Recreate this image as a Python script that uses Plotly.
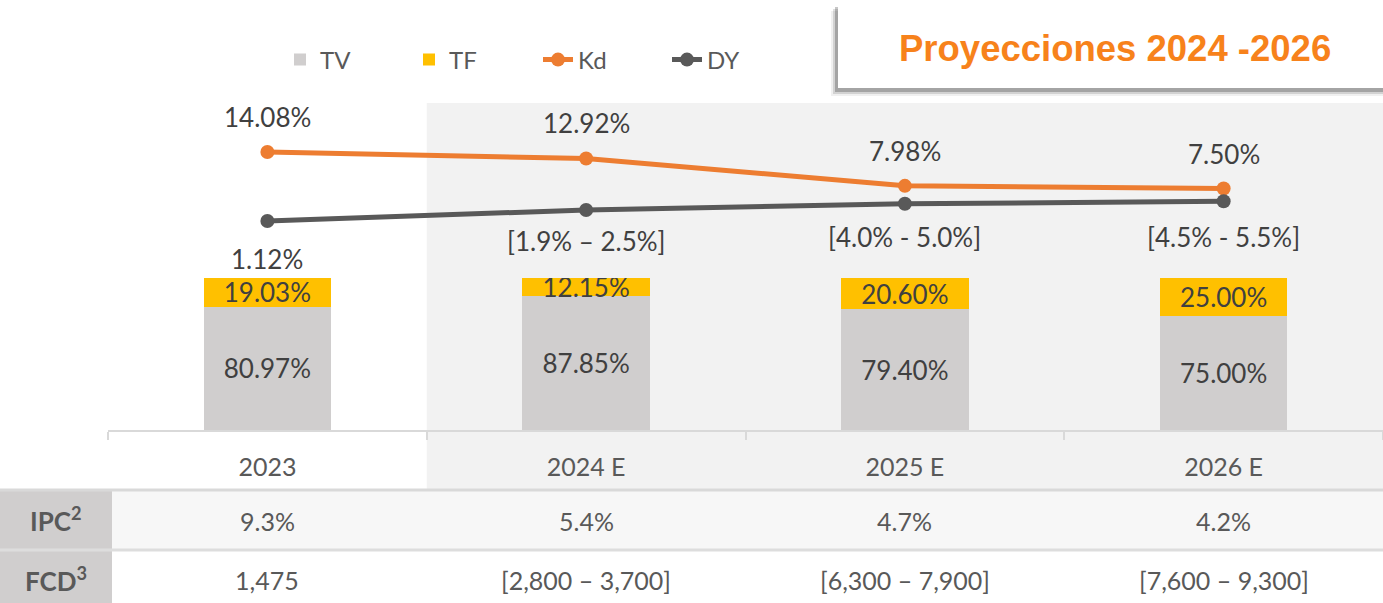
import plotly.graph_objects as go

# ---------------- data ----------------
categories = ["2023", "2024 E", "2025 E", "2026 E"]
tv = [80.97, 87.85, 79.40, 75.00]
tf = [19.03, 12.15, 20.60, 25.00]
kd = [14.08, 12.92, 7.98, 7.50]
kd_labels = ["14.08%", "12.92%", "7.98%", "7.50%"]
# DY: plotted level (projections are shown as ranges)
dy_level = [1.65, 3.63, 4.75, 5.20]
dy_labels = ["1.12%", "[1.9% – 2.5%]", "[4.0% - 5.0%]", "[4.5% - 5.5%]"]
ipc = ["9.3%", "5.4%", "4.7%", "4.2%"]
fcd = ["1,475", "[2,800 – 3,700]", "[6,300 – 7,900]", "[7,600 – 9,300]"]
title_text = "Proyecciones 2024 -2026"

# ---------------- style ----------------
W, H = 1383, 603
FONT = "Lato"
C_TV = "#D0CECE"
C_TF = "#FFC000"
C_KD = "#ED7D31"
C_DY = "#595959"
C_TXT = "#404040"
C_AX = "#595959"


def py(px):  # pixel from top -> paper y
    return 1 - px / H


def pxx(px):
    return px / W


fig = go.Figure()

fig.add_trace(go.Bar(
    x=categories, y=tv, name="TV", marker=dict(color=C_TV, line=dict(width=0)),
    text=[f"{v:.2f}%" for v in tv], textposition="inside", insidetextanchor="middle",
    textangle=0, constraintext="none",
    textfont=dict(family=FONT, size=26, color=C_TXT), xaxis="x", yaxis="y"))
fig.add_trace(go.Bar(
    x=categories, y=tf, name="TF", marker=dict(color=C_TF, line=dict(width=0)),
    text=[f"{v:.2f}%" for v in tf], textposition="inside", insidetextanchor="middle",
    textangle=0, constraintext="none",
    textfont=dict(family=FONT, size=26, color=C_TXT), xaxis="x", yaxis="y"))

fig.add_trace(go.Scatter(
    x=categories, y=kd, name="Kd", mode="lines+markers",
    line=dict(color=C_KD, width=5), marker=dict(size=14, color=C_KD),
    xaxis="x", yaxis="y2", cliponaxis=False))
fig.add_trace(go.Scatter(
    x=categories, y=dy_level, name="DY", mode="lines+markers",
    line=dict(color=C_DY, width=5), marker=dict(size=14, color=C_DY),
    xaxis="x", yaxis="y2", cliponaxis=False))

annotations = []
kd_shift = [35, 35, 35, 35]
for i, (v, t, s) in enumerate(zip(kd, kd_labels, kd_shift)):
    annotations.append(dict(x=i, y=v, xref="x", yref="y2", text=t, showarrow=False,
                            xanchor="center", yanchor="middle",
                            yshift=s, font=dict(family=FONT, size=26, color=C_TXT)))
dy_shift = [-38, -31, -33, -36]
for i, (v, t, s) in enumerate(zip(dy_level, dy_labels, dy_shift)):
    annotations.append(dict(x=i, y=v, xref="x", yref="y2", text=t, showarrow=False,
                            xanchor="center", yanchor="middle",
                            yshift=s, font=dict(family=FONT, size=26, color=C_TXT)))

# table values
for i, t in enumerate(ipc):
    annotations.append(dict(x=i, y=py(521), xref="x", yref="paper", text=t, showarrow=False,
                            xanchor="center", yanchor="middle",
                            font=dict(family=FONT, size=25, color=C_AX)))
for i, t in enumerate(fcd):
    annotations.append(dict(x=i, y=py(580), xref="x", yref="paper", text=t, showarrow=False,
                            xanchor="center", yanchor="middle",
                            font=dict(family=FONT, size=25, color=C_AX)))
annotations.append(dict(x=pxx(56), y=py(519), xref="paper", yref="paper",
                        text="<b>IPC<sup>2</sup></b>", showarrow=False,
                        xanchor="center", yanchor="middle",
                        font=dict(family=FONT, size=26, color=C_AX)))
annotations.append(dict(x=pxx(56), y=py(579), xref="paper", yref="paper",
                        text="<b>FCD<sup>3</sup></b>", showarrow=False,
                        xanchor="center", yanchor="middle",
                        font=dict(family=FONT, size=26, color=C_AX)))
# title box text
annotations.append(dict(x=pxx(1115), y=py(49), xref="paper", yref="paper",
                        text=f"<b>{title_text}</b>", showarrow=False,
                        xanchor="center", yanchor="middle",
                        font=dict(family="Liberation Sans", size=36.5, color="#F7821B")))

shapes = []
# shaded projection region
shapes.append(dict(type="rect", xref="x", yref="paper", x0=0.5, x1=3.5,
                   y0=py(489), y1=py(103), fillcolor="#F2F2F2", line=dict(width=0),
                   layer="below"))
# title box shadow + box
for dx, dy, op in [(7, 8, 0.06), (5, 6, 0.12), (3, 4, 0.22)]:
    shapes.append(dict(type="rect", xref="paper", yref="paper",
                       x0=pxx(838 - dx), x1=1.0, y0=py(88 + dy), y1=py(7 + dy - 4),
                       fillcolor=f"rgba(0,0,0,{op})", line=dict(width=0), layer="below"))
shapes.append(dict(type="rect", xref="paper", yref="paper", x0=pxx(838), x1=1.0,
                   y0=py(88), y1=py(7), fillcolor="white", line=dict(width=0), layer="below"))
# table
shapes.append(dict(type="rect", xref="paper", yref="paper", x0=pxx(112), x1=1.0,
                   y0=py(550), y1=py(490), fillcolor="#F7F7F7", line=dict(width=0), layer="below"))
shapes.append(dict(type="rect", xref="paper", yref="paper", x0=0, x1=pxx(112),
                   y0=0, y1=py(490), fillcolor=C_TV, line=dict(width=0), layer="below"))
shapes.append(dict(type="line", xref="paper", yref="paper", x0=0, x1=1,
                   y0=py(490), y1=py(490), line=dict(color="#D9D9D9", width=3), layer="below"))
shapes.append(dict(type="line", xref="paper", yref="paper", x0=0, x1=1,
                   y0=py(550), y1=py(550), line=dict(color="#DDDDDD", width=3), layer="below"))

# y2 range so that Kd points sit where they are in the reference
y2_range = [-67.25, 41.50]

fig.update_layout(
    width=W, height=H,
    margin=dict(l=0, r=0, t=0, b=0),
    paper_bgcolor="white", plot_bgcolor="rgba(0,0,0,0)",
    barmode="stack", bargap=0.6,
    font=dict(family=FONT, color=C_AX),
    showlegend=True,
    legend=dict(orientation="h", x=pxx(280), y=py(60), xanchor="left", yanchor="middle",
                font=dict(family=FONT, size=24, color=C_AX), bgcolor="rgba(0,0,0,0)",
                entrywidth=84, entrywidthmode="pixels", traceorder="normal"),
    xaxis=dict(domain=[108 / W, 1.0], range=[-0.5, 3.5], type="category",
               showline=True, linecolor="#D9D9D9", linewidth=2,
               ticks="outside", tickson="boundaries", ticklen=8, tickcolor="#D9D9D9",
               tickwidth=2, showgrid=False, zeroline=False, anchor="y",
               tickfont=dict(family=FONT, size=25, color=C_AX), ticklabelstandoff=14),
    yaxis=dict(domain=[py(430), py(278)], range=[0, 100], visible=False, fixedrange=True),
    yaxis2=dict(domain=[0, 1], range=y2_range, visible=False, anchor="x"),
    annotations=annotations,
    shapes=shapes,
)

fig.write_html("out.html", config={"displayModeBar": False},
               post_script="document.body.style.margin='0';")
